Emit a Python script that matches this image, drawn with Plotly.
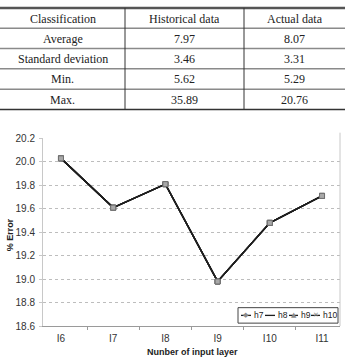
import plotly.graph_objects as go

# ---- data ----
table_header = ["Classification", "Historical data", "Actual data"]
table_labels = ["Average", "Standard deviation", "Min.", "Max."]
historical = ["7.97", "3.46", "5.62", "35.89"]
actual = ["8.07", "3.31", "5.29", "20.76"]

categories = ["I6", "I7", "I8", "I9", "I10", "I11"]
h7 = [20.03, 19.61, 19.81, 18.98, 19.48, 19.71]
h8 = [20.03, 19.61, 19.81, 18.98, 19.48, 19.71]
h9 = [20.03, 19.61, 19.81, 18.98, 19.48, 19.71]
h10 = [20.03, 19.61, 19.81, 18.98, 19.48, 19.71]
series_names = ["h7", "h8", "h9", "h10"]
y_ticks = [18.6, 18.8, 19.0, 19.2, 19.4, 19.6, 19.8, 20.0, 20.2]

W, H = 345, 362
def px(x):
    return x / W
def py(y):
    return 1 - y / H

SERIF = "Liberation Serif, Times New Roman, serif"
SANS = "Liberation Sans, Arial, sans-serif"

fig = go.Figure()
for name, vals in zip(series_names, [h7, h8, h9, h10]):
    fig.add_trace(go.Scatter(
        x=categories, y=vals, name=name, mode="lines+markers",
        line=dict(color="#1e1e1e", width=1.5),
        marker=dict(symbol="square", size=5, color="#a8a8a8",
                    line=dict(color="#707070", width=1)),
        showlegend=False,
    ))

shapes = []
annotations = []

# ---- table ----
col_edges = [0, 125, 244, 345]
row_edges = [2, 23, 44, 65, 86, 107]
shapes.append(dict(type="line", xref="paper", yref="paper",
                   x0=0, x1=1, y0=py(2), y1=py(2),
                   line=dict(color="#555", width=2.5)))
for r in row_edges[1:-1]:
    shapes.append(dict(type="line", xref="paper", yref="paper",
                       x0=0, x1=1, y0=py(r), y1=py(r),
                       line=dict(color="#8a8a8a", width=1.5)))
shapes.append(dict(type="line", xref="paper", yref="paper",
                   x0=0, x1=1, y0=py(107), y1=py(107),
                   line=dict(color="#333", width=1.5)))
for c in col_edges[1:-1]:
    shapes.append(dict(type="line", xref="paper", yref="paper",
                       x0=px(c), x1=px(c), y0=py(2), y1=py(107),
                       line=dict(color="#333", width=1)))

rows = [table_header] + [[a, b, c] for a, b, c in zip(table_labels, historical, actual)]
for i, row in enumerate(rows):
    yc = (row_edges[i] + row_edges[i + 1]) / 2 + 0.5
    for j, txt in enumerate(row):
        xc = (col_edges[j] + col_edges[j + 1]) / 2
        annotations.append(dict(text=txt, x=px(xc), y=py(yc), xref="paper", yref="paper",
                                showarrow=False, xanchor="center", yanchor="middle",
                                font=dict(family=SERIF, size=12, color="#222")))

# ---- right chart border ----
shapes.append(dict(type="line", xref="paper", yref="paper",
                   x0=px(340), x1=px(340), y0=py(131), y1=py(331),
                   line=dict(color="#c8c8c8", width=1)))

# ---- legend (manual) ----
shapes.append(dict(type="rect", xref="paper", yref="paper",
                   x0=px(238), x1=px(338), y0=py(328), y1=py(312),
                   line=dict(color="#444", width=1), fillcolor="white"))
leg_line = [(241, 251), (265, 275), (289, 298), (311, 320)]
leg_marks = ["◆", "", "▲", "✕"]
for (lx0, lx1), name, mk in zip(leg_line, series_names, leg_marks):
    shapes.append(dict(type="line", xref="paper", yref="paper",
                       x0=px(lx0), x1=px(lx1), y0=py(320), y1=py(320),
                       line=dict(color="#1e1e1e", width=1.3)))
    if mk:
        annotations.append(dict(text=mk, x=px((lx0 + lx1) / 2), y=py(320), xref="paper", yref="paper",
                                showarrow=False, xanchor="center", yanchor="middle",
                                font=dict(family="DejaVu Sans", size=7, color="#8a8a8a")))
    annotations.append(dict(text=name, x=px(lx1 + 0.5), y=py(320), xref="paper", yref="paper",
                            showarrow=False, xanchor="left", yanchor="middle",
                            font=dict(family=SANS, size=8.5, color="#222")))

# ---- axis titles ----
annotations.append(dict(text="<b>Nunber of input layer</b>", x=px(192), y=py(358),
                        xref="paper", yref="paper", showarrow=False,
                        xanchor="center", yanchor="middle",
                        font=dict(family=SANS, size=9, color="#222")))
annotations.append(dict(text="<b>% Error</b>", x=px(10), y=py(237), textangle=-90,
                        xref="paper", yref="paper", showarrow=False,
                        xanchor="center", yanchor="middle",
                        font=dict(family=SANS, size=9, color="#222")))

fig.update_layout(
    width=W, height=H,
    margin=dict(l=0, r=0, t=0, b=0),
    paper_bgcolor="white", plot_bgcolor="white",
    shapes=shapes, annotations=annotations,
    xaxis=dict(domain=[px(43), px(340)], type="category",
               showgrid=False, showline=True, linecolor="#9a9a9a", linewidth=1,
               ticks="outside", tickson="boundaries", ticklen=3, tickcolor="#9a9a9a",
               ticklabelstandoff=3,
               tickfont=dict(family=SANS, size=10, color="#333")),
    yaxis=dict(domain=[py(331), py(137)], range=[18.6, 20.2],
               tickvals=y_ticks, tickformat=".1f",
               showgrid=True, gridcolor="#bdbdbd", griddash="dot", gridwidth=1,
               showline=True, linecolor="#c8c8c8", linewidth=1,
               ticks="outside", ticklen=3, tickcolor="#c8c8c8",
               ticklabelstandoff=2,
               zeroline=False,
               tickfont=dict(family=SANS, size=10, color="#333")),
)

fig.write_html("out.html")
